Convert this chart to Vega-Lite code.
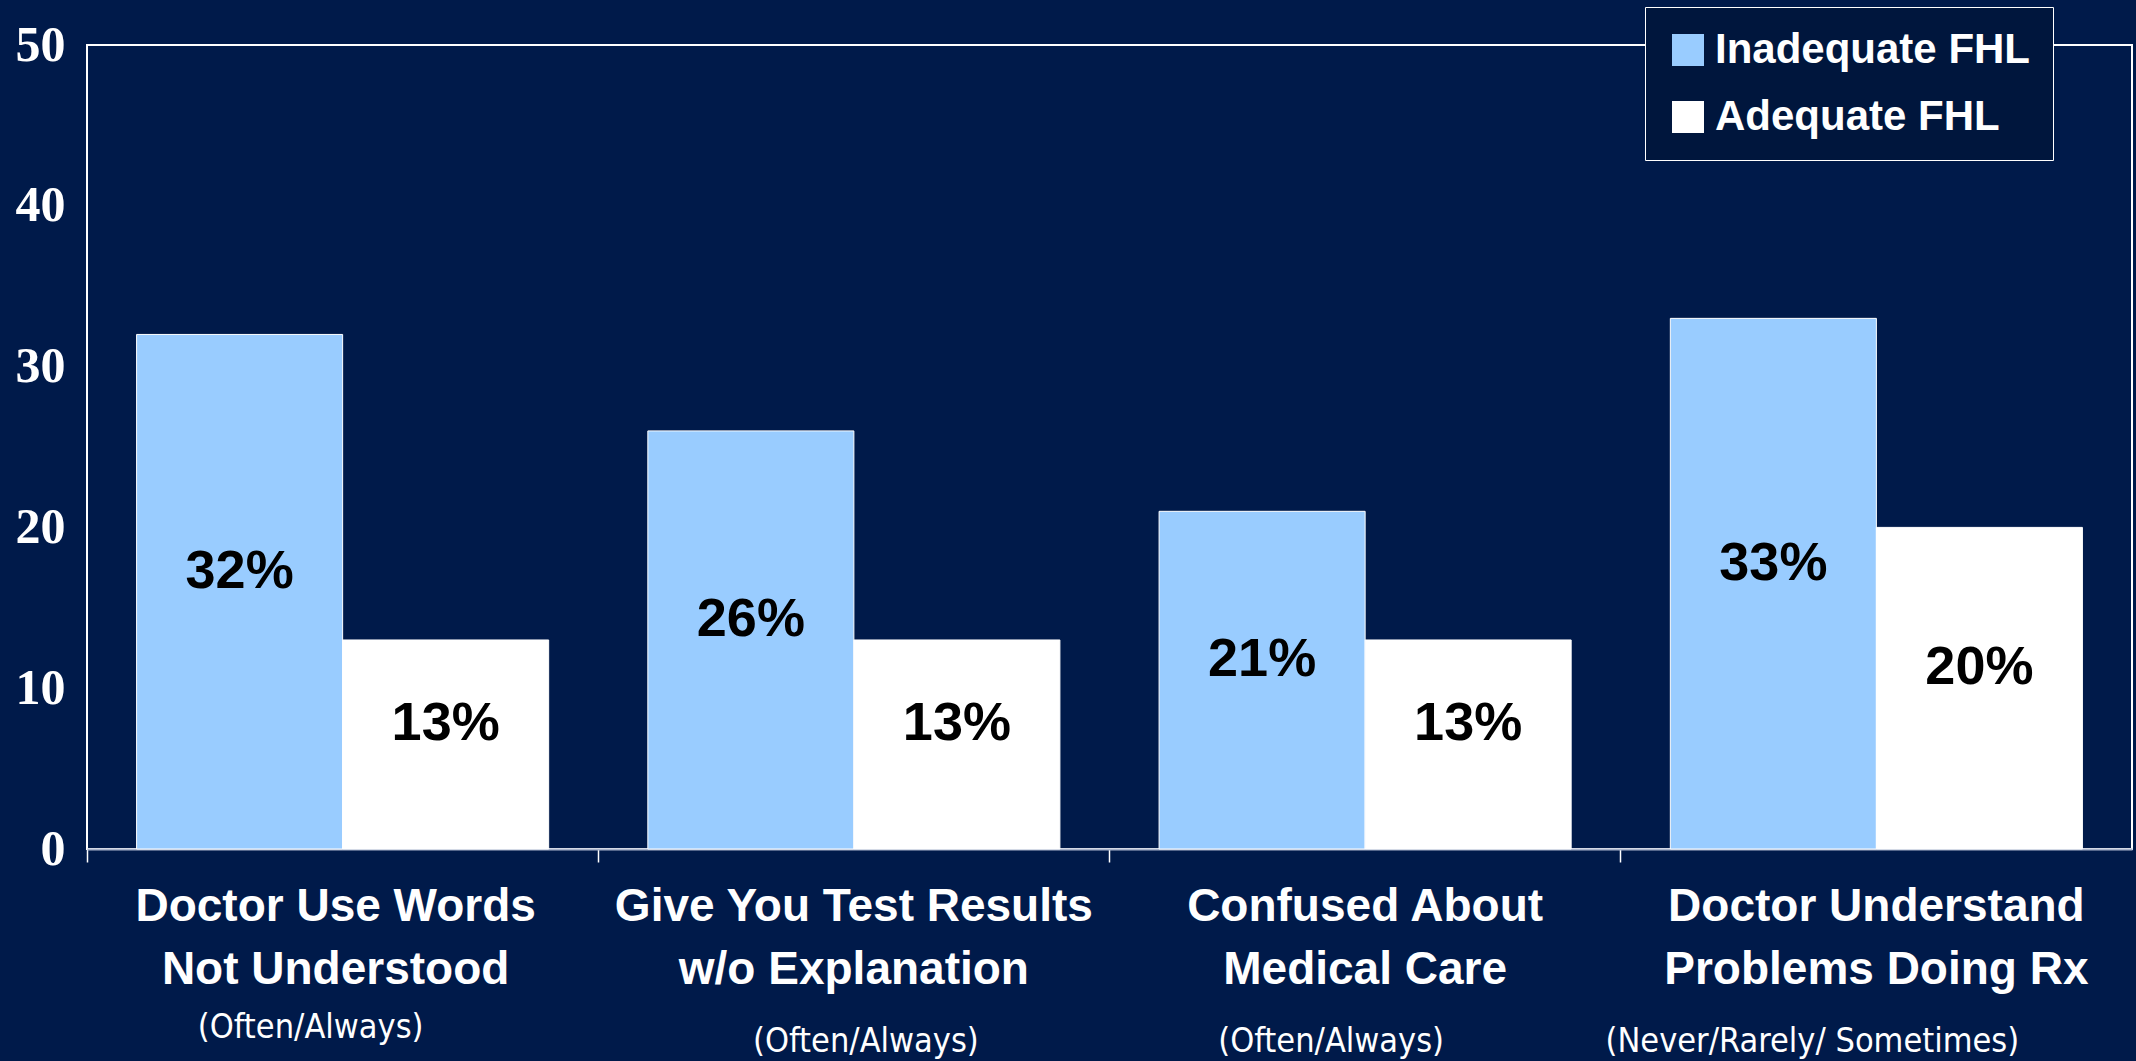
{
  "$schema": "https://vega.github.io/schema/vega-lite/v6.json",
  "autosize": "none",
  "width": 2045,
  "height": 804,
  "padding": {"left": 87, "top": 45, "right": 4, "bottom": 212},
  "background": "#001a4a",
  "config": {
    "view": {"stroke": "#ffffff", "strokeWidth": 2},
    "axis": {"grid": false, "labelColor": "#ffffff", "titleColor": "#ffffff"}
  },
  "data": {
    "values": [
      {"category": "Doctor Use Words|Not Understood", "group": "Inadequate FHL", "value": 32},
      {"category": "Doctor Use Words|Not Understood", "group": "Adequate FHL", "value": 13},
      {"category": "Give You Test Results|w/o Explanation", "group": "Inadequate FHL", "value": 26},
      {"category": "Give You Test Results|w/o Explanation", "group": "Adequate FHL", "value": 13},
      {"category": "Confused About|Medical Care", "group": "Inadequate FHL", "value": 21},
      {"category": "Confused About|Medical Care", "group": "Adequate FHL", "value": 13},
      {"category": "Doctor Understand|Problems Doing Rx", "group": "Inadequate FHL", "value": 33},
      {"category": "Doctor Understand|Problems Doing Rx", "group": "Adequate FHL", "value": 20}
    ]
  },
  "resolve": {"scale": {"x": "independent"}, "axis": {"x": "independent"}},
  "layer": [
    {
      "mark": {"type": "bar", "stroke": "#ffffff", "strokeWidth": 1},
      "encoding": {
        "x": {
          "field": "category", "type": "nominal", "sort": null,
          "scale": {"paddingInner": 0.194, "paddingOuter": 0.097},
          "axis": {
            "title": null,
            "orient": "bottom",
            "labelAngle": 0,
            "labelExpr": "split(datum.value, '|')",
            "labelFont": "Liberation Sans",
            "labelFontWeight": "bold",
            "labelFontSize": 46,
            "labelLineHeight": 63,
            "labelBaseline": "top",
            "labelAlign": "center",
            "labelLimit": 800,
            "labelPadding": 22,
            "bandPosition": -0.12,
            "labelOffset": {"condition": {"test": "datum.value == 'Doctor Use Words|Not Understood'", "value": -7}, "value": 0},
            "tickSize": 13,
            "tickColor": "#ffffff",
            "tickWidth": 1.5,
            "domainColor": "#a9b4cc",
            "domainWidth": 2
          }
        },
        "xOffset": {"field": "group", "type": "nominal", "sort": ["Inadequate FHL", "Adequate FHL"], "scale": {"paddingInner": 0, "paddingOuter": 0}},
        "y": {
          "field": "value", "type": "quantitative",
          "scale": {"domain": [0, 50]},
          "axis": {
            "title": null,
            "values": [0, 10, 20, 30, 40, 50],
            "domain": false,
            "ticks": false,
            "labelFont": "Liberation Serif",
            "labelFontWeight": "bold",
            "labelFontSize": 50,
            "labelPadding": 22
          }
        },
        "color": {
          "field": "group", "type": "nominal",
          "scale": {"domain": ["Inadequate FHL", "Adequate FHL"], "range": ["#99ccff", "#ffffff"]},
          "legend": {
            "title": null,
            "orient": "none",
            "legendX": 1558,
            "legendY": -38,
            "direction": "vertical",
            "symbolType": "square",
            "symbolSize": 1024,
            "symbolStrokeWidth": 0,
            "labelFont": "Liberation Sans",
            "labelFontWeight": "bold",
            "labelFontSize": 42,
            "labelColor": "#ffffff",
            "labelOffset": 6,
            "labelLimit": 500,
            "rowPadding": 25,
            "padding": 22,
            "fillColor": "#00163d",
            "strokeColor": "#ffffff"
          }
        }
      }
    },
    {
      "transform": [
        {"calculate": "datum.value / 2", "as": "mid"},
        {"calculate": "datum.value + '%'", "as": "pct"}
      ],
      "mark": {"type": "text", "font": "Liberation Sans", "fontWeight": "bold", "fontSize": 54, "color": "#000000", "dy": -20},
      "encoding": {
        "x": {
          "field": "category", "type": "nominal", "sort": null,
          "scale": {"paddingInner": 0.194, "paddingOuter": 0.097},
          "axis": {
            "title": null,
            "orient": "bottom",
            "labelAngle": 0,
            "domain": false,
            "ticks": false,
            "labelExpr": "datum.value == 'Doctor Understand|Problems Doing Rx' ? '(Never/Rarely/ Sometimes)' : '(Often/Always)'",
            "labelFont": "'DejaVu Sans Condensed', 'Liberation Sans', sans-serif",
            "labelFontSize": 34,
            "labelBaseline": "top",
            "labelAlign": "center",
            "labelLimit": 800,
            "labelPadding": {"condition": {"test": "datum.value == 'Doctor Use Words|Not Understood'", "value": 161}, "value": 175},
            "labelOffset": {"condition": [
              {"test": "datum.value == 'Doctor Use Words|Not Understood'", "value": -32},
              {"test": "datum.value == 'Give You Test Results|w/o Explanation'", "value": 12},
              {"test": "datum.value == 'Confused About|Medical Care'", "value": -34}
            ], "value": -64}
          }
        },
        "xOffset": {"field": "group", "type": "nominal", "sort": ["Inadequate FHL", "Adequate FHL"], "scale": {"paddingInner": 0, "paddingOuter": 0}},
        "y": {"field": "mid", "type": "quantitative", "scale": {"domain": [0, 50]}},
        "text": {"field": "pct", "type": "nominal"}
      }
    }
  ]
}
